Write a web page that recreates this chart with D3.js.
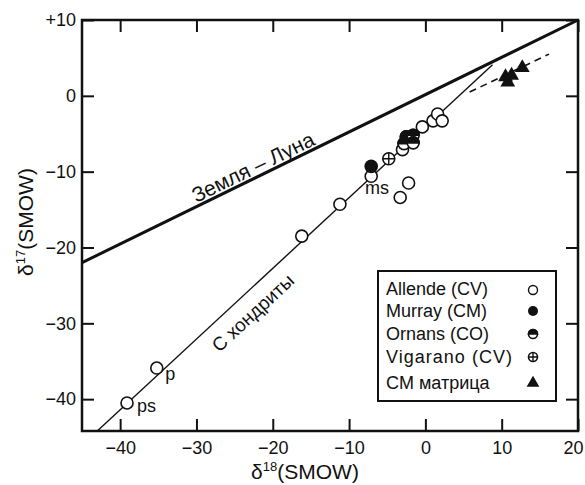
<!DOCTYPE html>
<html>
<head>
<meta charset="utf-8">
<script src="https://cdn.jsdelivr.net/npm/d3@7"></script>
<style>
  body { margin: 0; background: #fff; }
  text { font-family: "Liberation Sans", Arial, sans-serif; fill: #111; }
</style>
</head>
<body>
<div id="chart"></div>
<script>
// axes
var xTicks = [-40, -30, -20, -10, 0, 10, 20];
var xTickLabels = ["\u221240", "\u221230", "\u221220", "\u221210", "0", "10", "20"];
var yTicks = [10, 0, -10, -20, -30, -40];
var yTickLabels = ["+10", "0", "\u221210", "\u221220", "\u221230", "\u221240"];

// points [d18, d17]
var allende = [[-39.1, -40.5], [-35.2, -35.9], [-16.2, -18.5], [-11.2, -14.3], [-7.1, -10.6],
  [-2.2, -11.5], [-3.3, -13.4], [-3.0, -7.1], [-0.4, -4.1], [1.0, -3.3], [1.6, -2.4], [2.2, -3.3]];
var murray = [[-7.1, -9.3]];
var ornans = [[-2.5, -5.4], [-1.6, -5.2], [-2.8, -6.3], [-1.6, -6.2]];
var vigarano = [[-4.8, -8.3]];
var cmMatrix = [[10.5, 2.5], [11.3, 2.7], [10.8, 1.8], [12.7, 3.7]];

// lines
var earthMoon = [[-45, -22], [20, 10]];
var cChondrite = [[-43, -44.2], [8.8, 4.1]];
var matrixTrend = [[5.8, 0.5], [16.2, 5.5]];

var legendNames = ["Allende (CV)", "Murray (CM)", "Ornans (CO)", "Vigarano (CV)", "CM \u043c\u0430\u0442\u0440\u0438\u0446\u0430"];

var W = 585, H = 485;
var svg = d3.select("#chart").append("svg").attr("width", W).attr("height", H);

var x = d3.scaleLinear().domain([-45, 20]).range([82, 578]);
var y = d3.scaleLinear().domain([-44.2, 10]).range([431, 20]);

// frame
svg.append("rect")
  .attr("x", x(-45)).attr("y", y(10))
  .attr("width", x(20) - x(-45)).attr("height", y(-44.2) - y(10))
  .attr("fill", "none").attr("stroke", "#111").attr("stroke-width", 2.5);

// bottom axis
var gx = svg.append("g").attr("transform", "translate(0," + y(-44.2) + ")")
  .call(d3.axisBottom(x).tickValues(xTicks).tickSizeInner(-12).tickSizeOuter(0).tickPadding(10)
    .tickFormat(function(d, i) { return xTickLabels[i]; }));
// left axis
var gy = svg.append("g").attr("transform", "translate(" + x(-45) + ",0)")
  .call(d3.axisLeft(y).tickValues(yTicks).tickSizeInner(-12).tickSizeOuter(0).tickPadding(6)
    .tickFormat(function(d, i) { return yTickLabels[i]; }));
// top + right ticks
svg.append("g").attr("transform", "translate(0," + y(10) + ")")
  .call(d3.axisTop(x).tickValues(xTicks).tickSizeInner(-12).tickSizeOuter(0).tickFormat(""));
svg.append("g").attr("transform", "translate(" + x(20) + ",0)")
  .call(d3.axisRight(y).tickValues(yTicks).tickSizeInner(-12).tickSizeOuter(0).tickFormat(""));

svg.selectAll(".domain").remove();
svg.selectAll(".tick line").attr("stroke", "#111").attr("stroke-width", 2);
svg.selectAll(".tick text").style("font-size", "18px").attr("fill", "#111")
  .style("font-family", "'Liberation Sans', Arial, sans-serif");
// last x label sits at the right edge
gx.selectAll(".tick text").filter(function(d) { return d === 20; })
  .attr("text-anchor", "end").attr("dx", 5);

// axis titles
var xt = svg.append("text").attr("x", 305).attr("y", 479).attr("text-anchor", "middle")
  .style("font-size", "21px");
xt.append("tspan").text("\u03b4");
xt.append("tspan").attr("dy", -8).style("font-size", "13px").text("18");
xt.append("tspan").attr("dy", 8).text("(SMOW)");

var yt = svg.append("text").attr("transform", "translate(33,222) rotate(-90)")
  .attr("text-anchor", "middle").style("font-size", "21px");
yt.append("tspan").text("\u03b4");
yt.append("tspan").attr("dy", -8).style("font-size", "13px").text("17");
yt.append("tspan").attr("dy", 8).text("(SMOW)");

var line = d3.line().x(function(d) { return x(d[0]); }).y(function(d) { return y(d[1]); });

svg.append("path").attr("d", line(earthMoon)).attr("fill", "none")
  .attr("stroke", "#111").attr("stroke-width", 3);
svg.append("path").attr("d", line(cChondrite)).attr("fill", "none")
  .attr("stroke", "#111").attr("stroke-width", 1.4);
svg.append("path").attr("d", line(matrixTrend)).attr("fill", "none")
  .attr("stroke", "#111").attr("stroke-width", 1.6).attr("stroke-dasharray", "7,5");

// line labels
function angleOf(seg) {
  return Math.atan2(y(seg[1][1]) - y(seg[0][1]), x(seg[1][0]) - x(seg[0][0])) * 180 / Math.PI;
}
svg.append("text")
  .attr("transform", "translate(" + x(-22.6) + "," + y(-9.4) + ") rotate(" + angleOf(earthMoon) + ")")
  .attr("text-anchor", "middle").attr("dy", "0.35em").style("font-size", "21px")
  .text("\u0417\u0435\u043c\u043b\u044f \u2013 \u041b\u0443\u043d\u0430");
svg.append("text")
  .attr("transform", "translate(" + x(-22.6) + "," + y(-28.6) + ") rotate(" + angleOf(cChondrite) + ")")
  .attr("text-anchor", "middle").attr("dy", "0.35em").style("font-size", "19px")
  .text("\u0421 \u0445\u043e\u043d\u0434\u0440\u0438\u0442\u044b");

// point labels
var ptLabels = [["ps", -37.8, -41.7], ["p", -34.1, -37.5], ["ms", -7.9, -12.9]];
svg.selectAll(".plab").data(ptLabels).enter().append("text")
  .attr("x", function(d) { return x(d[1]); }).attr("y", function(d) { return y(d[2]); })
  .style("font-size", "18px").text(function(d) { return d[0]; });

var R = 6;
// Allende open
svg.selectAll(".allende").data(allende).enter().append("circle")
  .attr("cx", function(d) { return x(d[0]); }).attr("cy", function(d) { return y(d[1]); })
  .attr("r", R).attr("fill", "#fff").attr("stroke", "#111").attr("stroke-width", 1.6);

// Ornans half filled
function halfCircle(g, cx, cy, r) {
  g.append("circle").attr("cx", cx).attr("cy", cy).attr("r", r)
    .attr("fill", "#fff").attr("stroke", "#111").attr("stroke-width", 1.6);
  g.append("path").attr("d", "M" + (cx - r) + "," + cy + " A" + r + "," + r + " 0 0 1 " + (cx + r) + "," + cy + " Z")
    .attr("fill", "#111").attr("stroke", "#111").attr("stroke-width", 1.6);
}
var og = svg.append("g");
ornans.forEach(function(d) { halfCircle(og, x(d[0]), y(d[1]), R); });

// Vigarano crossed
function crossCircle(g, cx, cy, r) {
  g.append("circle").attr("cx", cx).attr("cy", cy).attr("r", r)
    .attr("fill", "#fff").attr("stroke", "#111").attr("stroke-width", 1.6);
  g.append("path").attr("d", "M" + (cx - r) + "," + cy + "H" + (cx + r) + "M" + cx + "," + (cy - r) + "V" + (cy + r))
    .attr("stroke", "#111").attr("stroke-width", 1.4);
}
var vg = svg.append("g");
vigarano.forEach(function(d) { crossCircle(vg, x(d[0]), y(d[1]), R); });

// Murray filled
svg.selectAll(".murray").data(murray).enter().append("circle")
  .attr("cx", function(d) { return x(d[0]); }).attr("cy", function(d) { return y(d[1]); })
  .attr("r", R + 0.8).attr("fill", "#111");

// CM matrix triangles
var tri = d3.symbol().type(d3.symbolTriangle).size(95);
svg.selectAll(".cm").data(cmMatrix).enter().append("path")
  .attr("d", tri)
  .attr("transform", function(d) { return "translate(" + x(d[0]) + "," + y(d[1]) + ")"; })
  .attr("fill", "#111");

// legend
var lg = svg.append("g");
lg.append("rect").attr("x", 378).attr("y", 271).attr("width", 178).attr("height", 130)
  .attr("fill", "#fff").attr("stroke", "#111").attr("stroke-width", 2);
var rowY = [295, 317, 340, 363, 389];
var symY = [290, 311, 334, 357, 383];
legendNames.forEach(function(n, i) {
  lg.append("text").attr("x", 386).attr("y", rowY[i]).style("font-size", "18px")
    .attr("textLength", i === 3 ? 126 : null).text(n);
});
var sx = 533, sr = 4.5;
lg.append("circle").attr("cx", sx).attr("cy", symY[0]).attr("r", sr)
  .attr("fill", "#fff").attr("stroke", "#111").attr("stroke-width", 1.4);
lg.append("circle").attr("cx", sx).attr("cy", symY[1]).attr("r", sr + 0.5).attr("fill", "#111");
halfCircle(lg, sx, symY[2], sr);
crossCircle(lg, sx, symY[3], sr);
lg.append("path").attr("d", d3.symbol().type(d3.symbolTriangle).size(70))
  .attr("transform", "translate(" + sx + "," + symY[4] + ")").attr("fill", "#111");
</script>
</body>
</html>
